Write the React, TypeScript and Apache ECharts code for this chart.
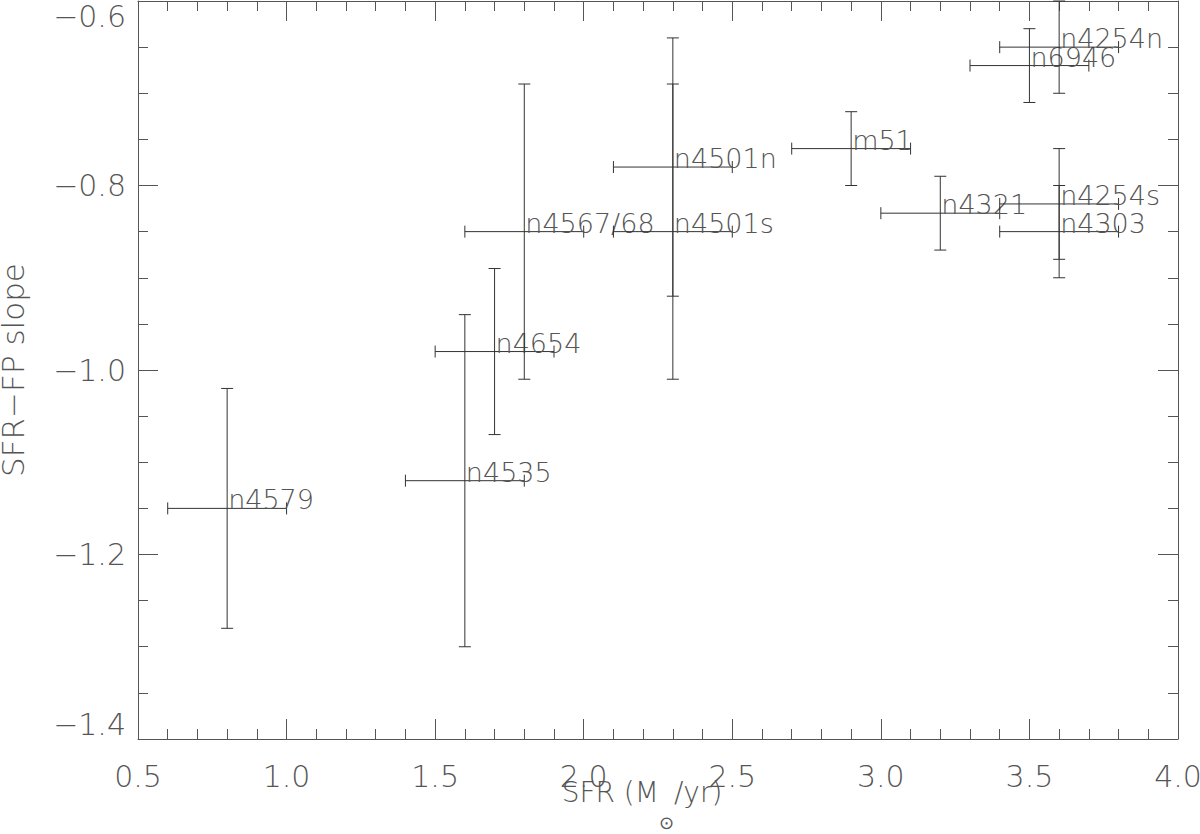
import React, { useEffect, useRef } from "react";
import * as echarts from "echarts";

const names = ["n4579", "n4535", "n4654", "n4567/68", "n4501n", "n4501s", "m51", "n4321", "n4254s", "n4303", "n6946", "n4254n"];
const sfr = [0.8, 1.6, 1.7, 1.8, 2.3, 2.3, 2.9, 3.2, 3.6, 3.6, 3.5, 3.6];
const sfrErr = [0.2, 0.2, 0.2, 0.2, 0.2, 0.2, 0.2, 0.2, 0.2, 0.2, 0.2, 0.2];
const slope = [-1.15, -1.12, -0.98, -0.85, -0.78, -0.85, -0.76, -0.83, -0.82, -0.85, -0.67, -0.65];
const slopeErr = [0.13, 0.18, 0.09, 0.16, 0.14, 0.16, 0.04, 0.04, 0.06, 0.05, 0.04, 0.05];

const xTicks = { min: 0.5, max: 4.0, interval: 0.5 };
const yTicks = { min: -1.4, max: -0.6, interval: 0.2 };

const FONT = "DejaVu Sans";
const TEXT = "#555";
const AXIS = "#555";
const LINE = "#333";

export default function App() {
  const ref = useRef<HTMLDivElement>(null);
  useEffect(() => {
    if (!ref.current) return;
    const chart = echarts.init(ref.current, null, { renderer: "svg" });
    const data = names.map((n, i) => [sfr[i], slope[i], sfrErr[i], slopeErr[i], i]);
    const axisCommon = {
      axisLine: { show: true, lineStyle: { color: AXIS, width: 1 } },
      axisTick: { show: true, inside: true, length: 20, lineStyle: { color: AXIS } },
      minorTick: { show: true, length: 10, lineStyle: { color: AXIS } },
      splitLine: { show: false },
    };
    const fmt = (v: number) => {
      const s = v.toFixed(1);
      return s.startsWith("-") ? "\u2212" + s.slice(1) : s;
    };
    chart.setOption({
      animation: false,
      backgroundColor: "#fff",
      grid: { left: 138, right: 22, top: 1, bottom: 95, containLabel: false, outerBoundsMode: "none" },
      xAxis: [
        {
          type: "value",
          position: "bottom",
          ...xTicks,
          ...axisCommon,
          minorTick: { ...axisCommon.minorTick, splitNumber: 5 },
          axisLabel: { show: true, margin: 22, color: TEXT, fontFamily: FONT, fontSize: 30, fontWeight: 200, formatter: fmt },
          name: "SFR (M{sub|\u2299}/yr)",
          nameLocation: "middle",
          nameGap: 39,
          nameMoveOverlap: false,
          nameTextStyle: {
            color: TEXT,
            fontFamily: FONT,
            fontSize: 28,
            fontWeight: 200,
            lineHeight: 28,
            padding: [0, 32, 0, 0],
            rich: {
              sub: { fontSize: 18, fontFamily: FONT, fontWeight: 200, color: TEXT, padding: [60, 0, 0, 0], lineHeight: 18 },
            },
          },
        },
        {
          type: "value",
          position: "top",
          ...xTicks,
          ...axisCommon,
          minorTick: { ...axisCommon.minorTick, splitNumber: 5 },
          axisLabel: { show: false },
        },
      ],
      yAxis: [
        {
          type: "value",
          position: "left",
          ...yTicks,
          ...axisCommon,
          minorTick: { ...axisCommon.minorTick, splitNumber: 4 },
          axisLabel: {
            show: true,
            margin: 12,
            color: TEXT,
            fontFamily: FONT,
            fontSize: 30,
            fontWeight: 200,
            formatter: fmt,
            verticalAlignMaxLabel: "top",
            verticalAlignMinLabel: "bottom",
          },
          name: "SFR\u2212FP slope",
          nameLocation: "middle",
          nameGap: 110,
          nameMoveOverlap: false,
          nameTextStyle: { color: TEXT, fontFamily: FONT, fontSize: 31, fontWeight: 200 },
        },
        {
          type: "value",
          position: "right",
          ...yTicks,
          ...axisCommon,
          minorTick: { ...axisCommon.minorTick, splitNumber: 4 },
          axisLabel: { show: false },
        },
      ],
      series: [
        {
          type: "custom",
          xAxisIndex: 0,
          yAxisIndex: 0,
          clip: false,
          data,
          renderItem: (params: any, api: any) => {
            const x = api.value(0);
            const y = api.value(1);
            const xe = api.value(2);
            const ye = api.value(3);
            const idx = api.value(4);
            const c = api.coord([x, y]);
            const l = api.coord([x - xe, y]);
            const r = api.coord([x + xe, y]);
            const t = api.coord([x, y + ye]);
            const b = api.coord([x, y - ye]);
            const cap = 6;
            const style = { stroke: LINE, lineWidth: 1 };
            const ln = (x1: number, y1: number, x2: number, y2: number) => ({
              type: "line",
              shape: { x1, y1, x2, y2 },
              style,
            });
            return {
              type: "group",
              children: [
                ln(l[0], l[1], r[0], r[1]),
                ln(l[0], l[1] - cap, l[0], l[1] + cap),
                ln(r[0], r[1] - cap, r[0], r[1] + cap),
                ln(t[0], t[1], b[0], b[1]),
                ln(t[0] - cap, t[1], t[0] + cap, t[1]),
                ln(b[0] - cap, b[1], b[0] + cap, b[1]),
                {
                  type: "text",
                  x: c[0] + 1,
                  y: c[1] + 5,
                  style: {
                    text: names[idx],
                    fill: TEXT,
                    fontFamily: FONT,
                    fontSize: 27,
                    fontWeight: 200,
                    textAlign: "left",
                    textVerticalAlign: "bottom",
                  },
                },
              ],
            };
          },
        },
      ],
    });
    return () => chart.dispose();
  }, []);
  return <div ref={ref} style={{ position: "fixed", left: 0, top: 0, width: 1200, height: 834, background: "#fff" }} />;
}
